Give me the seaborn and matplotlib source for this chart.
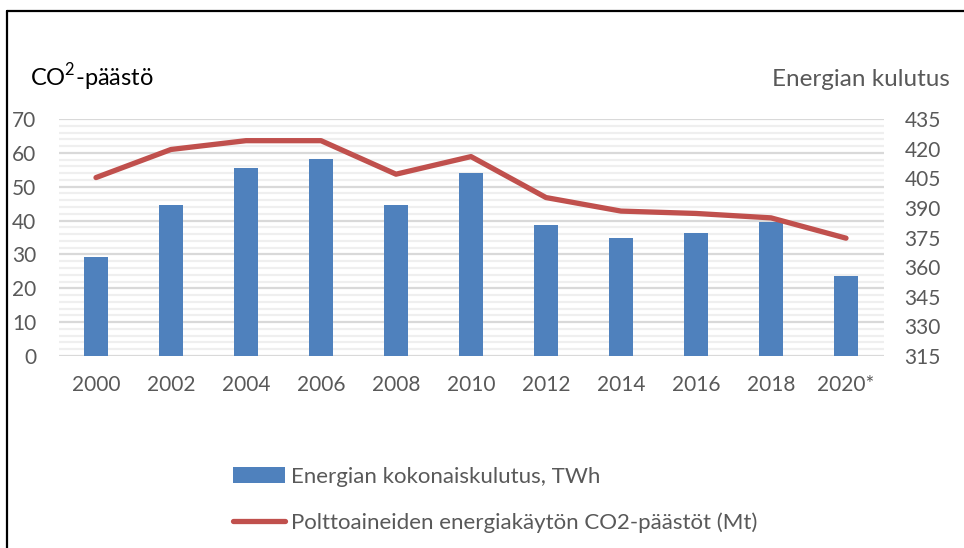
import matplotlib
matplotlib.use("Agg")
import matplotlib.pyplot as plt
import seaborn as sns
import numpy as np
from matplotlib.lines import Line2D
from matplotlib.patches import Patch

years = ["2000", "2002", "2004", "2006", "2008", "2010", "2012", "2014", "2016", "2018", "2020*"]
energy_twh = [365, 391.5, 410, 415, 391.5, 407.5, 381.5, 375, 377.5, 383, 355.5]
co2_mt = [52.7, 61.0, 63.6, 63.6, 53.7, 58.9, 46.8, 42.8, 42.1, 40.8, 34.8]
left_ticks = [0, 10, 20, 30, 40, 50, 60, 70]
right_ticks = [315, 330, 345, 360, 375, 390, 405, 420, 435]

bar_label = "Energian kokonaiskulutus, TWh"
line_label = "Polttoaineiden energiakäytön CO2-päästöt (Mt)"

sns.set_theme(style="white")
plt.rcParams["font.family"] = ["Lato", "DejaVu Sans"]
plt.rcParams["mathtext.fontset"] = "custom"
plt.rcParams["mathtext.rm"] = "Lato"

TXT = "#595959"
BLUE = "#4f81bd"
RED = "#c0504d"
FS = 15
FS_TXT = 16

fig = plt.figure(figsize=(9.64, 5.48), dpi=100)
ax = fig.add_axes([58.5 / 964, 1 - 356 / 548, 825 / 964, 237 / 548])
ax2 = ax.twinx()
ax3 = ax.twinx()

# gridlines on the bottom axis (left scale)
ax.set_ylim(0, 70)
ax.set_yticks(left_ticks)
ax.set_yticks(np.arange(0, 71, 2), minor=True)
ax.grid(True, which="minor", axis="y", color="#efefef", linewidth=1.6)
ax.grid(True, which="major", axis="y", color="#d9d9d9", linewidth=1.6)
ax.set_axisbelow(True)

# bars on the right axis
sns.barplot(x=years, y=energy_twh, ax=ax2, color=BLUE, width=0.32,
            saturation=1, edgecolor="none")
ax2.set_ylim(315, 435)
ax2.set_yticks(right_ticks)

# line on top, left scale
sns.lineplot(x=np.arange(len(years)), y=co2_mt, ax=ax3, color=RED,
             linewidth=3.8, solid_capstyle="round", solid_joinstyle="round")
ax3.set_ylim(0, 70)
ax3.set_yticks([])

for a in (ax, ax2, ax3):
    a.set_xlim(-0.5, len(years) - 0.5)
    for s in a.spines.values():
        s.set_visible(False)
    a.set_xlabel("")
    a.set_ylabel("")

ax.set_xticks(np.arange(len(years)))
ax.set_xticklabels(years)
ax.tick_params(axis="x", which="both", length=0, pad=14, labelsize=FS, labelcolor=TXT)
ax.tick_params(axis="y", which="both", length=0, pad=16, labelsize=FS, labelcolor=TXT)
ax2.tick_params(axis="y", which="both", length=0, pad=15, labelsize=FS, labelcolor=TXT)
ax2.tick_params(axis="x", length=0, labelbottom=False)
ax3.tick_params(axis="x", length=0, labelbottom=False)

fig.text(30 / 964, 1 - 77 / 548, r"CO$^{\mathregular{2}}$-päästö", fontsize=17,
         color="#000000", ha="left", va="center")
fig.text(950 / 964, 1 - 80 / 548, "Energian kulutus", fontsize=17.5,
         color=TXT, ha="right", va="center")

handles = [Patch(facecolor=BLUE, edgecolor="none"),
           Line2D([0], [0], color=RED, linewidth=3.8, solid_capstyle="round")]
fig.legend(handles, [bar_label, line_label], loc="upper left",
           bbox_to_anchor=(213 / 964, 1 - 447 / 548), frameon=False,
           fontsize=FS_TXT, labelcolor=TXT, handlelength=2.35, handleheight=0.7,
           handletextpad=0.27, labelspacing=1.13)

# outer border (top and left)
fig.add_artist(Line2D([7 / 964, 1], [1 - 11 / 548, 1 - 11 / 548],
                      transform=fig.transFigure, color="black", linewidth=1.6))
fig.add_artist(Line2D([7 / 964, 7 / 964], [1 - 11 / 548, 0],
                      transform=fig.transFigure, color="black", linewidth=1.6))

fig.savefig("out.png", dpi=100)
